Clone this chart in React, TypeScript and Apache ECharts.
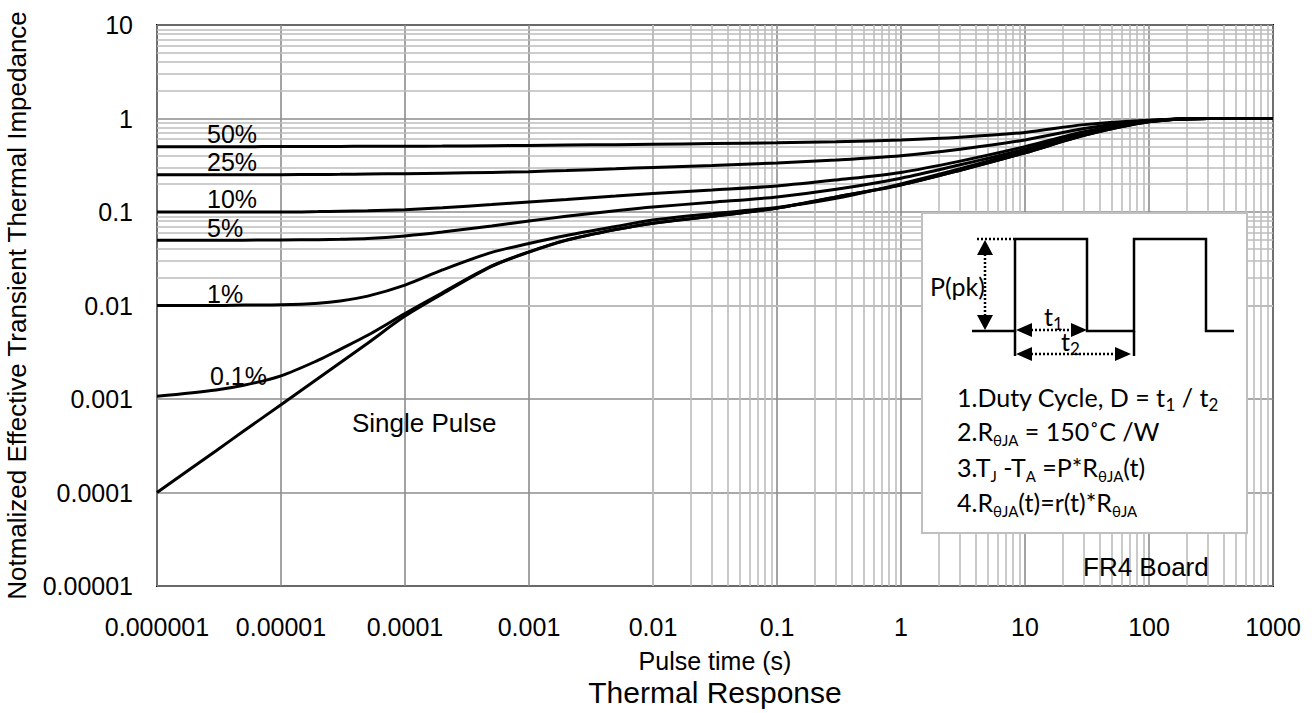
import React, { useEffect, useRef } from 'react';
import * as echarts from 'echarts';

// ---------- data ----------
const pulseTimes = [1e-6, 3e-6, 5e-6, 1e-5, 2e-5, 3e-5, 5e-5, 1e-4, 2e-4, 5e-4, 1e-3, 2e-3, 5e-3, 1e-2, 3e-2, 0.1, 0.3, 1, 3, 10, 30, 100, 300, 1000];

const duty50 = [0.5, 0.5, 0.5, 0.501, 0.502, 0.503, 0.504, 0.505, 0.507, 0.511, 0.515, 0.52, 0.525, 0.53, 0.54, 0.55, 0.565, 0.59, 0.63, 0.71, 0.86, 0.96, 1.0, 1.0];
const duty25 = [0.25, 0.25, 0.25, 0.251, 0.252, 0.253, 0.255, 0.257, 0.26, 0.265, 0.27, 0.278, 0.29, 0.3, 0.315, 0.335, 0.36, 0.4, 0.47, 0.59, 0.78, 0.95, 1.0, 1.0];
const duty10 = [0.1, 0.1, 0.1, 0.1, 0.101, 0.102, 0.103, 0.106, 0.111, 0.12, 0.128, 0.136, 0.148, 0.158, 0.172, 0.19, 0.22, 0.265, 0.35, 0.5, 0.72, 0.94, 1.0, 1.0];
const duty5 = [0.05, 0.05, 0.05, 0.0502, 0.0506, 0.051, 0.052, 0.0555, 0.061, 0.071, 0.08, 0.09, 0.103, 0.113, 0.127, 0.145, 0.175, 0.23, 0.32, 0.47, 0.7, 0.935, 1.0, 1.0];
const duty1 = [0.01, 0.01, 0.0101, 0.0102, 0.0106, 0.0112, 0.0126, 0.0165, 0.024, 0.037, 0.046, 0.056, 0.07, 0.082, 0.096, 0.112, 0.14, 0.2, 0.29, 0.45, 0.68, 0.93, 1.0, 1.0];
const duty01 = [0.00107, 0.00125, 0.0014, 0.00177, 0.0026, 0.0034, 0.0048, 0.0082, 0.0137, 0.0265, 0.0375, 0.05, 0.065, 0.076, 0.09, 0.11, 0.145, 0.195, 0.28, 0.43, 0.66, 0.92, 1.0, 1.0];
const singlePulse = [0.0001, 0.00028, 0.000454, 0.00087, 0.00167, 0.00244, 0.00395, 0.0077, 0.0133, 0.0262, 0.0372, 0.0498, 0.0648, 0.0758, 0.0898, 0.1098, 0.1448, 0.1948, 0.2795, 0.4295, 0.6595, 0.92, 1.0, 1.0];

const seriesNames = ['50%', '25%', '10%', '5%', '1%', '0.1%', 'Single Pulse'];
const seriesValues = [duty50, duty25, duty10, duty5, duty1, duty01, singlePulse];

const xTickLabels = ['0.000001', '0.00001', '0.0001', '0.001', '0.01', '0.1', '1', '10', '100', '1000'];
const yTickLabels = ['0.00001', '0.0001', '0.001', '0.01', '0.1', '1', '10'];
const minorMultipliers = [2, 3, 4, 5, 6, 7, 8, 9];

const xTitle = 'Pulse time (s)';
const yTitle = 'Notmalized Effective Transient Thermal Impedance';
const chartTitle = 'Thermal Response';

// ---------- styling ----------
const FONT = '"Liberation Sans", Arial, Helvetica, sans-serif';
const INSET_FONT = 'Lato, "Open Sans", sans-serif';

const minorX: number[] = [];
for (let d = -6; d <= 2; d++) for (const m of minorMultipliers) minorX.push(m * Math.pow(10, d));
const minorY: number[] = [];
for (let d = -5; d <= 0; d++) for (const m of minorMultipliers) minorY.push(m * Math.pow(10, d));

function buildOption() {
  const curveSeries = seriesNames.map((name, i) => ({
    name,
    type: 'line',
    data: pulseTimes.map((t, k) => [t, seriesValues[i][k]]),
    showSymbol: false,
    symbol: 'none',
    smooth: 0.3,
    lineStyle: { color: '#000', width: 3 },
    z: 10,
    silent: true,
  }));

  const gridSeries = {
    name: 'minor grid',
    type: 'line',
    data: [[1e-6, 1e-5]],
    symbol: 'none',
    lineStyle: { opacity: 0 },
    silent: true,
    z: 1,
    markLine: {
      silent: true,
      symbol: ['none', 'none'],
      label: { show: false },
      z: 1,
      lineStyle: { color: '#bdbdbd', width: 1.6, type: 'solid' },
      emphasis: { disabled: true },
      data: [
        ...minorX.map((v) => ({ xAxis: v })),
        ...minorY.map((v) => ({ yAxis: v })),
      ],
    },
  };

  const Z = 60;
  const sub = { fontSize: 15, fontFamily: INSET_FONT, fill: '#000', verticalAlign: 'bottom', lineHeight: 18 };
  const subT = { fontSize: 17, fontFamily: INSET_FONT, fill: '#000', verticalAlign: 'bottom', lineHeight: 20 };
  const insetText = (text: string, x: number, y: number, rich: any = { s: sub }) => ({
    type: 'text',
    x,
    y,
    z: Z,
    silent: true,
    style: {
      text,
      fontSize: 25,
      fontFamily: INSET_FONT,
      fill: '#000',
      verticalAlign: 'middle',
      lineHeight: 32,
      rich,
    },
  });
  const plain = (text: string, x: number, y: number, size = 25, align = 'left') => ({
    type: 'text',
    x,
    y,
    z: Z,
    silent: true,
    style: { text, fontSize: size, fontFamily: FONT, fill: '#000', align, verticalAlign: 'middle' },
  });
  const dotted = { stroke: '#000', lineWidth: 2.5, lineDash: [2, 2] };
  const solid = { stroke: '#000', lineWidth: 2.5, fill: 'none' };
  const seg = (x1: number, y1: number, x2: number, y2: number, style: any) => ({
    type: 'line',
    z: Z,
    silent: true,
    shape: { x1, y1, x2, y2 },
    style,
  });
  const tri = (pts: number[][]) => ({ type: 'polygon', z: Z, silent: true, shape: { points: pts }, style: { fill: '#000' } });

  const graphic = [
    // curve labels
    plain('50%', 207, 134),
    plain('25%', 207, 162),
    plain('10%', 207, 199),
    plain('5%', 207, 228),
    plain('1%', 207, 294),
    plain('0.1%', 210, 376),
    plain('Single Pulse', 352, 423, 26),
    plain('FR4 Board', 1083, 567, 26),
    plain(chartTitle, 715, 692, 30, 'center'),
    // inset box
    {
      type: 'rect',
      z: 50,
      silent: true,
      shape: { x: 922, y: 213, width: 325, height: 320 },
      style: { fill: '#fff', stroke: '#bfbfbf', lineWidth: 2 },
    },
    {
      type: 'polyline',
      z: Z,
      silent: true,
      shape: { points: [[972, 331], [1015, 331], [1015, 239], [1087, 239], [1087, 331], [1134, 331], [1134, 239], [1206, 239], [1206, 331], [1234, 331]] },
      style: solid,
    },
    seg(1015, 331, 1015, 356, solid),
    seg(1134, 331, 1134, 356, solid),
    seg(977, 239, 1014, 239, dotted),
    seg(985, 254, 985, 316, dotted),
    tri([[985, 240], [977, 255], [993, 255]]),
    tri([[985, 330], [977, 315], [993, 315]]),
    seg(1031, 330, 1071, 330, dotted),
    tri([[1016, 330], [1032, 323], [1032, 337]]),
    tri([[1087, 330], [1071, 323], [1071, 337]]),
    seg(1031, 354, 1116, 354, dotted),
    tri([[1016, 354], [1032, 347], [1032, 361]]),
    tri([[1131, 354], [1115, 347], [1115, 361]]),
    insetText('P(pk)', 930, 286),
    insetText('t{s|1}', 1044, 316, { s: subT }),
    insetText('t{s|2}', 1061, 341, { s: subT }),
    insetText('1.Duty Cycle, D = t{s|1} / t{s|2}', 957, 397, { s: subT }),
    insetText('2.R{s|θJA} = 150˚C /W', 957, 431),
    insetText('3.T{s|J} -T{s|A} =P*R{s|θJA}(t)', 957, 467),
    insetText('4.R{s|θJA}(t)=r(t)*R{s|θJA}', 957, 502),
  ];

  return {
    animation: false,
    backgroundColor: '#ffffff',
    grid: {
      left: 157,
      right: 39,
      top: 25,
      bottom: 127,
      show: true,
      borderColor: '#000',
      borderWidth: 2,
      backgroundColor: 'transparent',
      containLabel: false,
      outerBoundsMode: 'none',
    },
    xAxis: {
      type: 'log',
      logBase: 10,
      min: 1e-6,
      max: 1000,
      splitNumber: 9,
      name: xTitle,
      nameLocation: 'middle',
      nameGap: 62,
      nameTextStyle: { fontFamily: FONT, fontSize: 25, color: '#000' },
      axisLine: { show: false },
      axisTick: { show: false },
      axisLabel: {
        color: '#000',
        fontFamily: FONT,
        fontSize: 25,
        margin: 28,
        formatter: (v: number) => xTickLabels[Math.round(Math.log10(v)) + 6],
      },
      splitLine: { show: true, lineStyle: { color: '#8c8c8c', width: 1.6 } },
    },
    yAxis: {
      type: 'log',
      logBase: 10,
      min: 1e-5,
      max: 10,
      splitNumber: 6,
      name: yTitle,
      nameLocation: 'middle',
      nameGap: 127,
      nameTextStyle: { fontFamily: FONT, fontSize: 26, color: '#000' },
      axisLine: { show: false },
      axisTick: { show: false },
      axisLabel: {
        color: '#000',
        fontFamily: FONT,
        fontSize: 25,
        margin: 24,
        formatter: (v: number) => yTickLabels[Math.round(Math.log10(v)) + 5],
      },
      splitLine: { show: true, lineStyle: { color: '#8c8c8c', width: 1.6 } },
    },
    graphic,
    series: [gridSeries, ...curveSeries],
  };
}

export default function App() {
  const ref = useRef<HTMLDivElement>(null);
  useEffect(() => {
    const chart = echarts.init(ref.current as HTMLDivElement, null, { renderer: 'svg' });
    chart.setOption(buildOption() as any);
    return () => chart.dispose();
  }, []);
  return (
    <div
      ref={ref}
      style={{ position: 'absolute', left: 0, top: 0, width: 1312, height: 713, background: '#fff' }}
    />
  );
}
